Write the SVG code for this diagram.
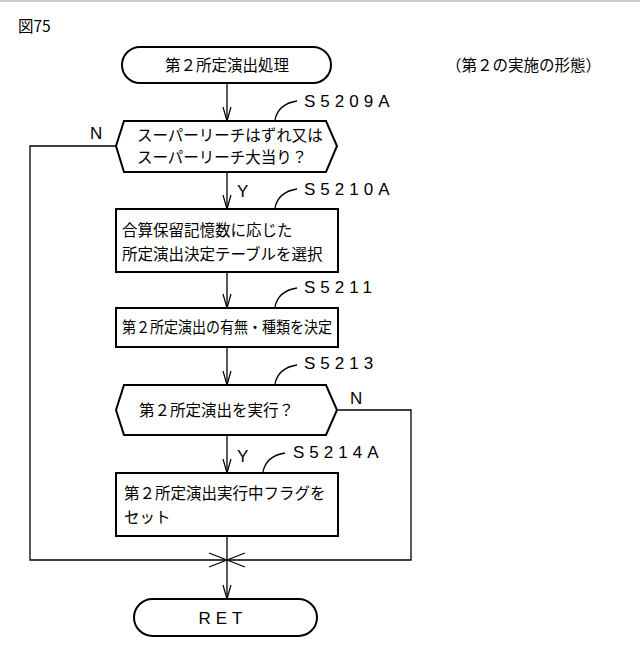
<svg xmlns="http://www.w3.org/2000/svg" width="640" height="657" viewBox="0 0 640 657">
<style>
.s{fill:#fff;stroke:#000;stroke-width:2}
.l{fill:none;stroke:#000;stroke-width:1.3}
.t{font-family:"Noto Sans CJK JP","Liberation Sans",sans-serif;font-size:15.5px;fill:#000}
.c{font-family:"Liberation Sans","Noto Sans CJK JP",sans-serif;font-size:17px;letter-spacing:5px;fill:#000}
</style>
<defs><marker id="a" markerWidth="16" markerHeight="12" refX="15" refY="6" orient="auto" markerUnits="userSpaceOnUse"><path d="M1,2 L15,6 L1,10" fill="none" stroke="#000" stroke-width="1.2"/></marker></defs>
<rect width="640" height="657" fill="#fff"/>
<line x1="0" y1="1" x2="640" y2="1" stroke="#bbb" stroke-width="1.5"/>
<text x="18" y="32" class="t" font-size="12">図75</text>
<text x="446" y="71" class="t" font-size="17">（第２の実施の形態）</text>
<g id="connectors">
<line class="l" x1="227" y1="83" x2="227" y2="121" marker-end="url(#a)"/>
<line class="l" x1="227" y1="172" x2="227" y2="209" marker-end="url(#a)"/>
<line class="l" x1="227" y1="272" x2="227" y2="308" marker-end="url(#a)"/>
<line class="l" x1="227" y1="347" x2="227" y2="385" marker-end="url(#a)"/>
<line class="l" x1="227" y1="435" x2="227" y2="473" marker-end="url(#a)"/>
<line class="l" x1="227" y1="536" x2="227" y2="599" marker-end="url(#a)"/>
<polyline class="l" points="116,146 30,146 30,560 411,560 411,410 338,410"/>
<path class="l" d="M209,553 L245,567 M209,567 L245,553"/>
<text x="90" y="139" class="c">N</text>
<text x="350" y="404" class="c">N</text>
<text x="237" y="197" class="c">Y</text>
<text x="237" y="462" class="c">Y</text>
<path class="l" d="M275,120 Q278,104 297,101"/>
<path class="l" d="M275,208 Q278,192 297,189"/>
<path class="l" d="M275,307 Q278,291 297,288"/>
<path class="l" d="M275,384 Q278,368 297,365"/>
<path class="l" d="M263,472 Q266,456 285,453"/>
<text x="304" y="107" class="c">S5209A</text>
<text x="304" y="195" class="c">S5210A</text>
<text x="304" y="293" class="c">S5211</text>
<text x="304" y="369" class="c">S5213</text>
<text x="293" y="458" class="c">S5214A</text>
</g>
<g id="start"><rect class="s" x="122" y="47" width="209" height="36" rx="18"/><text x="227" y="71" class="t" font-size="17" text-anchor="middle">第２所定演出処理</text></g>
<g id="S5209A"><polygon class="s" points="116,146 124,121 326,121 337,146 326,172 124,172"/><text x="137" y="141" class="t">スーパーリーチはずれ又は</text><text x="137" y="163" class="t">スーパーリーチ大当り？</text></g>
<g id="S5210A"><rect class="s" x="116" y="209" width="222" height="63"/><text x="122" y="236" class="t">合算保留記憶数に応じた</text><text x="122" y="260" class="t">所定演出決定テーブルを選択</text></g>
<g id="S5211"><rect class="s" x="116" y="308" width="222" height="39"/><text x="122" y="333" class="t" textLength="210" lengthAdjust="spacingAndGlyphs">第２所定演出の有無・種類を決定</text></g>
<g id="S5213"><polygon class="s" points="116,410 124,385 326,385 337,410 326,435 124,435"/><text x="139" y="416" class="t" font-size="17">第２所定演出を実行？</text></g>
<g id="S5214A"><rect class="s" x="116" y="473" width="222" height="63"/><text x="124" y="499" class="t">第２所定演出実行中フラグを</text><text x="124" y="523" class="t">セット</text></g>
<g id="ret"><rect class="s" x="134" y="599" width="183" height="37" rx="18.5"/><text x="223" y="624" class="c" text-anchor="middle">RET</text></g>
</svg>
